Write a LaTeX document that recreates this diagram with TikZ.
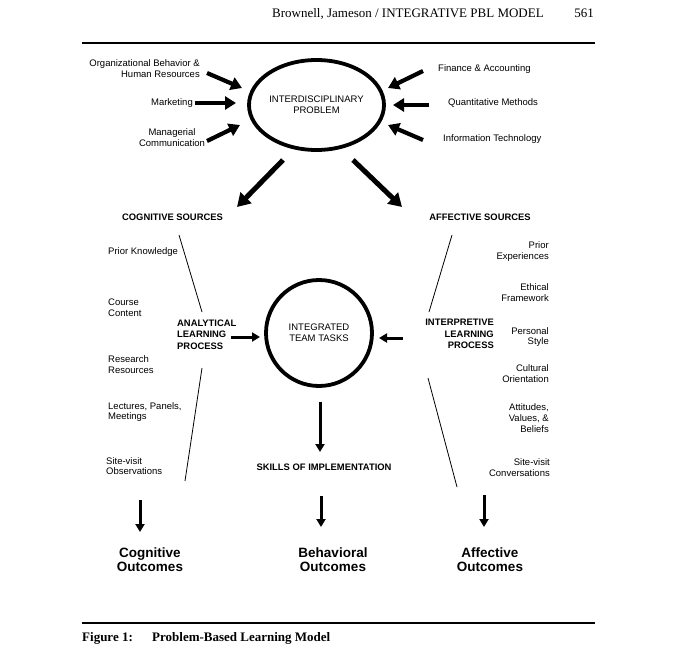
\documentclass[tikz,border=0pt]{standalone}
\usepackage{fontspec}
\setmainfont{Liberation Serif}
\newfontfamily\arialf{Liberation Sans}
\usetikzlibrary{arrows.meta,shapes.geometric}
\tikzset{
  lbl/.style={font=\arialf\fontsize{9.5}{10.8}\selectfont, inner sep=0pt},
  capl/.style={font=\arialf\bfseries\fontsize{9.4}{11.5}\selectfont, inner sep=0pt},
  outc/.style={font=\arialf\bfseries\fontsize{13.5}{14}\selectfont, inner sep=0pt, align=center},
  serifl/.style={font=\fontsize{13}{15}\selectfont, inner sep=0pt},
  bigarr/.style={line width=4.2pt, -{Triangle[length=11pt,width=13pt]}},
  fatarr/.style={line width=5pt, -{Triangle[length=13pt,width=15pt]}},
  medarr/.style={line width=3pt, -{Triangle[length=8pt,width=9pt]}},
  thinl/.style={line width=0.8pt},
  rulel/.style={line width=2.4pt},
  ring/.style={draw, line width=3.8pt, inner sep=0pt}
}
\begin{document}
\begin{tikzpicture}[x=1pt,y=-1pt]
\fill[white] (0,0) rectangle (678,656);
\useasboundingbox (0,0) rectangle (678,656);

% header
\node[serifl, anchor=base west] (hdr) at (272,17) {Brownell, Jameson / INTEGRATIVE PBL MODEL};
\node[serifl, anchor=base east] (pg) at (594,17) {561};
\coordinate (r1a) at (82,43);
\coordinate (r1b) at (595,43);
\draw[rulel] (r1a) -- (r1b);

% top ellipse
\node[ring, ellipse, minimum width=135pt, minimum height=90pt, lbl, align=center] (prob) at (316.5,105) {INTERDISCIPLINARY\\PROBLEM};

% left inputs
\node[lbl, align=right, anchor=east] (orgl) at (200,68.5) {Organizational Behavior \&\\Human Resources};
\node[lbl, anchor=east] (mktl) at (193,103) {Marketing};
\node[lbl, align=center] (mgrl) at (172,137.5) {Managerial\\Communication};
% right inputs
\node[lbl, anchor=west] (finl) at (438,69) {Finance \& Accounting};
\node[lbl, anchor=west] (qml) at (448,103) {Quantitative Methods};
\node[lbl, anchor=west] (itl) at (443,139) {Information Technology};

\coordinate (t1) at (207,73);  \coordinate (h1) at (242,88);
\coordinate (t2) at (195,103); \coordinate (h2) at (236,103);
\coordinate (t3) at (207,141); \coordinate (h3) at (240,125);
\coordinate (t4) at (423,71);  \coordinate (h4) at (388,88);
\coordinate (t5) at (429,105); \coordinate (h5) at (393,105);
\coordinate (t6) at (423,140); \coordinate (h6) at (388,125);
\draw[bigarr] (t1) -- (h1);
\draw[bigarr] (t2) -- (h2);
\draw[bigarr] (t3) -- (h3);
\draw[bigarr] (t4) -- (h4);
\draw[bigarr] (t5) -- (h5);
\draw[bigarr] (t6) -- (h6);

% diagonal arrows
\coordinate (dl) at (283,160); \coordinate (dlh) at (237,207);
\coordinate (dr) at (353,160); \coordinate (drh) at (402,207);
\draw[fatarr] (dl) -- (dlh);
\draw[fatarr] (dr) -- (drh);

\node[capl] (cogs) at (172.5,217) {COGNITIVE SOURCES};
\node[capl] (affs) at (480,217) {AFFECTIVE SOURCES};

% left sources
\node[lbl, anchor=west] (pk) at (108,252) {Prior Knowledge};
\node[lbl, anchor=west, align=left] (cc) at (108,308) {Course\\Content};
\node[lbl, anchor=west, align=left] (rr) at (108,364.5) {Research\\Resources};
\node[lbl, anchor=west, align=left] (lpm) at (108,412) {Lectures, Panels,\\Meetings};
\node[lbl, anchor=west, align=left] (svo) at (106,466) {Site-visit\\Observations};

% right sources
\node[lbl, anchor=east, align=right] (pe) at (549,251.5) {Prior\\Experiences};
\node[lbl, anchor=east, align=right] (ef) at (549,292.5) {Ethical\\Framework};
\node[lbl, anchor=east, align=right] (ps) at (549,337) {Personal\\Style};
\node[lbl, anchor=east, align=right] (co) at (549,373.5) {Cultural\\Orientation};
\node[lbl, anchor=east, align=right] (avb) at (549,418) {Attitudes,\\Values, \&\\Beliefs};
\node[lbl, anchor=east, align=right] (svc) at (550,468) {Site-visit\\Conversations};

% thin divider lines
\coordinate (l1a) at (179,235); \coordinate (l1b) at (202,312);
\coordinate (l2a) at (202,368); \coordinate (l2b) at (185,481);
\coordinate (r1x) at (452,235); \coordinate (r1y) at (429,312);
\coordinate (r2a) at (428,378); \coordinate (r2b) at (457,487);
\draw[thinl] (l1a) -- (l1b);
\draw[thinl] (l2a) -- (l2b);
\draw[thinl] (r1x) -- (r1y);
\draw[thinl] (r2a) -- (r2b);

% processes
\node[capl, anchor=west, align=left] (alp) at (177,334.5) {ANALYTICAL\\LEARNING\\PROCESS};
\node[capl, anchor=east, align=right] (ilp) at (494,334) {INTERPRETIVE\\LEARNING\\PROCESS};

% integrated team tasks
\node[ring, circle, minimum size=106pt, lbl, align=center] (itt) at (319,333) {INTEGRATED\\TEAM TASKS};

\coordinate (ma) at (231,337); \coordinate (mah) at (260,337);
\coordinate (mb) at (403,338); \coordinate (mbh) at (379,338);
\draw[medarr] (ma) -- (mah);
\draw[medarr] (mb) -- (mbh);
\coordinate (md) at (320,402); \coordinate (mdh) at (320,452);
\draw[medarr] (md) -- (mdh);

\node[capl] (soi) at (324,467) {SKILLS OF IMPLEMENTATION};

% bottom arrows
\coordinate (ba) at (140,500); \coordinate (bah) at (140,532);
\coordinate (bb) at (321,496); \coordinate (bbh) at (321,527);
\coordinate (bc) at (484,495); \coordinate (bch) at (484,527);
\draw[medarr] (ba) -- (bah);
\draw[medarr] (bb) -- (bbh);
\draw[medarr] (bc) -- (bch);

\node[outc] (cgo) at (150,560) {Cognitive\\Outcomes};
\node[outc] (bho) at (333,560) {Behavioral\\Outcomes};
\node[outc] (afo) at (490,560) {Affective\\Outcomes};

% caption
\coordinate (r2x) at (82,623);
\coordinate (r2y) at (595,623);
\draw[rulel] (r2x) -- (r2y);
\node[serifl, font=\bfseries\fontsize{13}{15}\selectfont, anchor=base west] (fig) at (82,641) {Figure 1:};
\node[serifl, font=\bfseries\fontsize{13}{15}\selectfont, anchor=base west] (figt) at (152,641) {Problem-Based Learning Model};
\end{tikzpicture}
\end{document}
